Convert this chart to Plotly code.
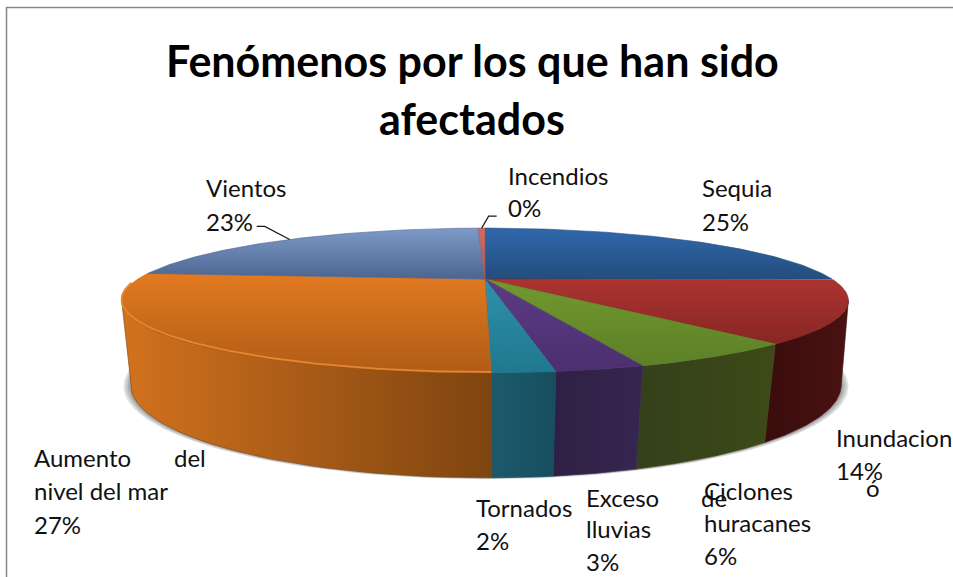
import numpy as np
import plotly.graph_objects as go

categories = ["Sequia", "Inundaciones", "Ciclones y huracanes", "Exceso de lluvias",
              "Tornados", "Aumento del nivel del mar", "Vientos", "Incendios"]
values = [25.0, 13.8, 5.9, 3.0, 2.1, 26.6, 23.2, 0.4]
title_lines = ["Fenómenos por los que han sido", "afectados"]

top_colors = [("#3068ac", "#234d7c"), ("#ac3431", "#872623"), ("#72992f", "#5c8027"),
              ("#5c3c86", "#4b2f6e"), ("#3090ab", "#1f788e"), ("#e27a20", "#b05c16"),
              ("#7d9ac8", "#4b6590"), ("#cf6c62", "#a85a58")]
wall_colors = [("#1c3658", "#1c3658"), ("#3a0c0c", "#4a1212"), ("#34401a", "#3d4a18"),
               ("#2e2044", "#372650"), ("#1b5a6c", "#174e5e"), ("#d2721e", "#7e4410"),
               ("#3c5070", "#3c5070"), ("#8a4a48", "#8a4a48")]

CX, CY, RX, RY, K = 485.0, 279.0, 347.0, 66.0, 0.297
BCX, BCY, BRX, BRY, BK = 486.0, 360.0, 342.0, 86.0, 0.27


def top_xy(theta):
    s, c = np.sin(theta), np.cos(theta)
    w = 1 / (1 + K * s)
    return CX + RX * c * w, CY - RY * s * w


def bottom_xy(theta, grow=0.0):
    s, c = np.sin(theta), np.cos(theta)
    w = 1 / (1 + BK * s)
    return BCX + (BRX + grow) * c * w, BCY - BRY * s * w


cum = np.concatenate([[0], np.cumsum(values)]) / sum(values)
ang = np.pi / 2 - 2 * np.pi * cum
VIS_A, VIS_B = np.radians(-17.0), np.radians(-163.0)

fig = go.Figure()


def poly(x, y, colors, orient, cat, pct):
    lo, hi = (min(x), max(x)) if orient == "horizontal" else (min(y), max(y))
    fig.add_trace(go.Scatter(
        x=list(x) + [x[0]], y=list(y) + [y[0]], mode="lines",
        line=dict(width=0.6, color=colors[1]),
        fill="toself",
        fillgradient=dict(type=orient, start=lo, stop=hi,
                          colorscale=[[0, colors[0]], [1, colors[1]]]),
        hoveron="fills", text=f"{cat}: {pct}%", hoverinfo="text", showlegend=False))


# soft shadow under the pie, visible mostly at the two sides
t = np.linspace(np.radians(-5), np.radians(-175), 120)
for g in [7, 5, 3, 1.5]:
    sx, sy = bottom_xy(t, g)
    fig.add_trace(go.Scatter(x=sx, y=sy + g * 0.2, mode="lines", line=dict(width=0), fill="toself",
                             fillcolor="rgba(70,70,70,0.16)", hoverinfo="skip", showlegend=False))

# walls
for i, cat in enumerate(categories):
    a0, a1 = max(min(ang[i], VIS_A), VIS_B), max(min(ang[i + 1], VIS_A), VIS_B)
    if a0 - a1 < 1e-6:
        continue
    th = np.linspace(a0, a1, 50)
    tx, ty = top_xy(th)
    bx, by = bottom_xy(th)
    poly(np.r_[tx, bx[::-1]], np.r_[ty, by[::-1]], wall_colors[i], "horizontal", cat, round(values[i]))

# top faces
for i, cat in enumerate(categories):
    th = np.linspace(ang[i], ang[i + 1], 80)
    tx, ty = top_xy(th)
    poly(np.r_[CX, tx], np.r_[CY, ty], top_colors[i], "vertical", cat, round(values[i]))

# bevel highlight on the front rim of the largest front slice
th = np.linspace(ang[5], np.radians(-176), 100)
rx, ry = top_xy(th)
fig.add_trace(go.Scatter(x=rx, y=ry - 1, mode="lines", line=dict(color="#e58630", width=1.8),
                         hoverinfo="skip", showlegend=False))

# leader lines, anchored on slice mid-angles
for i, (dx, dy) in {6: (-25, -13), 7: (7, -12)}.items():
    ax, ay = top_xy((ang[i] + ang[i + 1]) / 2)
    tail = -8 if i == 6 else 8
    fig.add_trace(go.Scatter(x=[ax, ax + dx, ax + dx + tail], y=[ay, ay + dy, ay + dy], mode="lines",
                             line=dict(color="#1a1a1a", width=1.2), hoverinfo="skip", showlegend=False))

pct = [f"{round(v)}%" for v in values]
placed = [
    ("Sequia", 700, 187), (pct[0], 700, 221),
    ("Inundacion", 834, 437), (pct[1], 834, 470), ("ó", 864, 487),
    ("de", 699, 497), ("Ciclones", 702, 490), ("huracanes", 702, 522), (pct[2], 702, 555),
    ("Exceso", 584, 497), ("lluvias", 584, 528), (pct[3], 584, 561),
    ("Tornados", 474, 507), (pct[4], 474, 540),
    ("Aumento", 32, 457), ("del", 172, 457), ("nivel del mar", 32, 490), (pct[5], 32, 524),
    ("Vientos", 204, 187), (pct[6], 204, 221),
    ("Incendios", 506, 175), (pct[7], 506, 207),
]
ann = [dict(x=x, y=y, text=s, xref="x", yref="y", showarrow=False, xanchor="left", yanchor="middle",
            font=dict(family="Lato", size=24, color="#111111")) for s, x, y in placed]
ann += [dict(x=472, y=y, text=s, xref="x", yref="y", showarrow=False, xanchor="center", yanchor="middle",
             font=dict(family="Lato", size=43, color="#000000", weight="bold"))
        for s, y in zip(title_lines, (60, 118))]

fig.update_layout(
    width=953, height=577, margin=dict(l=0, r=0, t=0, b=0),
    paper_bgcolor="white", plot_bgcolor="white", showlegend=False, annotations=ann,
    xaxis=dict(range=[0, 953], visible=False, fixedrange=True),
    yaxis=dict(range=[577, 0], visible=False, fixedrange=True),
    shapes=[dict(type="rect", xref="x", yref="y", x0=6.5, y0=7.5, x1=960, y1=590,
                 line=dict(color="#868686", width=1.5), layer="below")],
)
fig.write_html("out.html", config={"displayModeBar": False},
               post_script="document.body.style.margin='0';document.body.style.overflow='hidden';")
